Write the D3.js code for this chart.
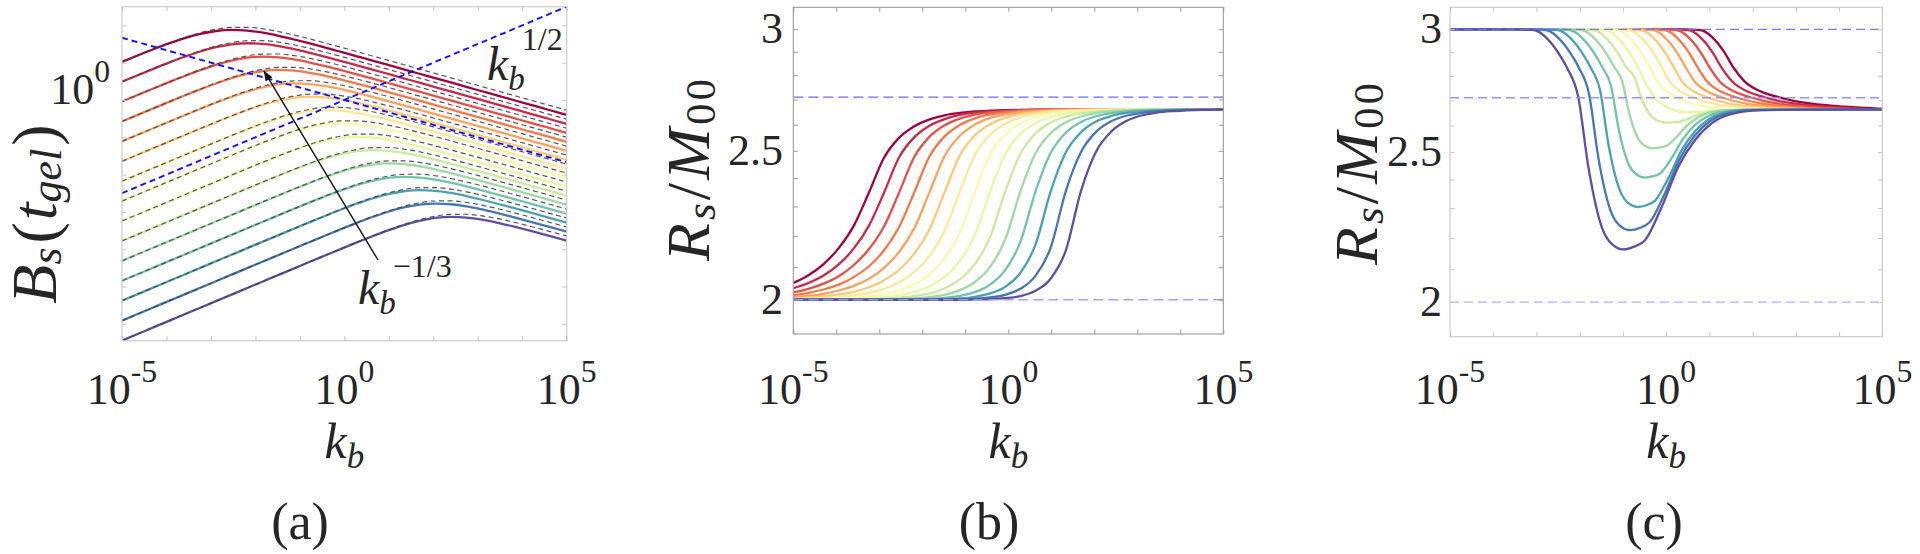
<!DOCTYPE html>
<html><head><meta charset="utf-8">
<script src="https://cdn.jsdelivr.net/npm/d3@7"></script>
<style>
body{margin:0;background:#fff}
svg{display:block}
</style>
</head><body>
<svg id="fig" width="1920" height="554"></svg>
<script>
// ---------------- DATA ----------------
const kbExponentGrid = [-5,-4.648,-4.296,-3.944,-3.592,-3.24,-2.888,-2.536,-2.184,-1.832,-1.48,-1.128,-0.776,-0.424,-0.072,0.28,0.632,0.984,1.336,1.688,2.04,2.392,2.744,3.096,3.448,3.8,4.152,4.504,4.856,5];

const bsLog10 = [
[1.022,1.193,1.359,1.516,1.657,1.772,1.849,1.878,1.859,1.803,1.720,1.621,1.514,1.402,1.287,1.171,1.055,0.938,0.820,0.703,0.586,0.469,0.351,0.234,0.117,-0.001,-0.118,-0.235,-0.352,-0.401],
[0.490,0.664,0.835,1.001,1.158,1.299,1.414,1.491,1.520,1.501,1.445,1.362,1.263,1.156,1.044,0.929,0.813,0.697,0.580,0.462,0.345,0.228,0.111,-0.007,-0.124,-0.241,-0.359,-0.476,-0.593,-0.642],
[-0.042,0.132,0.306,0.477,0.643,0.800,0.941,1.056,1.133,1.162,1.143,1.087,1.004,0.905,0.798,0.686,0.571,0.455,0.339,0.222,0.104,-0.013,-0.130,-0.247,-0.365,-0.482,-0.599,-0.717,-0.834,-0.882],
[-0.576,-0.400,-0.226,-0.052,0.119,0.285,0.442,0.583,0.698,0.775,0.804,0.785,0.729,0.646,0.547,0.440,0.328,0.213,0.097,-0.019,-0.136,-0.254,-0.371,-0.488,-0.605,-0.723,-0.840,-0.957,-1.075,-1.123],
[-1.109,-0.934,-0.758,-0.584,-0.410,-0.239,-0.073,0.084,0.225,0.340,0.417,0.446,0.427,0.371,0.288,0.189,0.082,-0.030,-0.145,-0.261,-0.377,-0.494,-0.612,-0.729,-0.846,-0.963,-1.081,-1.198,-1.315,-1.364],
[-1.643,-1.467,-1.292,-1.116,-0.942,-0.768,-0.597,-0.431,-0.274,-0.133,-0.018,0.059,0.088,0.069,0.013,-0.070,-0.169,-0.276,-0.388,-0.503,-0.619,-0.735,-0.852,-0.970,-1.087,-1.204,-1.321,-1.439,-1.556,-1.605],
[-2.177,-2.001,-1.825,-1.650,-1.474,-1.300,-1.126,-0.955,-0.789,-0.632,-0.491,-0.376,-0.299,-0.270,-0.289,-0.345,-0.428,-0.527,-0.634,-0.746,-0.861,-0.977,-1.093,-1.210,-1.328,-1.445,-1.562,-1.679,-1.797,-1.845],
[-2.711,-2.535,-2.359,-2.183,-2.008,-1.832,-1.658,-1.484,-1.313,-1.147,-0.990,-0.849,-0.734,-0.657,-0.628,-0.647,-0.703,-0.786,-0.885,-0.992,-1.104,-1.219,-1.335,-1.451,-1.568,-1.686,-1.803,-1.920,-2.037,-2.086],
[-3.245,-3.069,-2.893,-2.717,-2.541,-2.366,-2.190,-2.016,-1.842,-1.671,-1.505,-1.348,-1.207,-1.092,-1.015,-0.986,-1.005,-1.061,-1.144,-1.243,-1.350,-1.462,-1.577,-1.693,-1.809,-1.926,-2.044,-2.161,-2.278,-2.327],
[-3.779,-3.603,-3.427,-3.251,-3.075,-2.899,-2.724,-2.548,-2.374,-2.200,-2.029,-1.863,-1.706,-1.565,-1.450,-1.373,-1.344,-1.363,-1.419,-1.502,-1.601,-1.708,-1.820,-1.935,-2.051,-2.167,-2.284,-2.402,-2.519,-2.567],
[-4.313,-4.137,-3.961,-3.785,-3.609,-3.433,-3.257,-3.082,-2.906,-2.732,-2.558,-2.387,-2.221,-2.064,-1.923,-1.808,-1.731,-1.702,-1.721,-1.777,-1.860,-1.959,-2.066,-2.178,-2.293,-2.409,-2.525,-2.642,-2.760,-2.808],
[-4.847,-4.671,-4.495,-4.319,-4.143,-3.967,-3.791,-3.615,-3.440,-3.264,-3.090,-2.916,-2.745,-2.579,-2.422,-2.281,-2.166,-2.089,-2.060,-2.079,-2.135,-2.218,-2.317,-2.424,-2.536,-2.651,-2.767,-2.883,-3.000,-3.049],
[-5.381,-5.205,-5.029,-4.853,-4.677,-4.501,-4.325,-4.149,-3.973,-3.798,-3.622,-3.448,-3.274,-3.103,-2.937,-2.780,-2.639,-2.524,-2.447,-2.418,-2.437,-2.493,-2.576,-2.675,-2.782,-2.894,-3.009,-3.125,-3.241,-3.289],
[-5.915,-5.739,-5.563,-5.387,-5.211,-5.035,-4.859,-4.683,-4.507,-4.331,-4.156,-3.980,-3.806,-3.632,-3.461,-3.295,-3.138,-2.997,-2.882,-2.805,-2.776,-2.795,-2.851,-2.934,-3.033,-3.140,-3.252,-3.367,-3.483,-3.530],
[-6.449,-6.273,-6.097,-5.921,-5.745,-5.569,-5.393,-5.217,-5.041,-4.865,-4.689,-4.514,-4.338,-4.164,-3.990,-3.819,-3.653,-3.496,-3.355,-3.240,-3.163,-3.134,-3.153,-3.209,-3.292,-3.391,-3.498,-3.610,-3.725,-3.773]
];

const bsApproxLog10 = [
[1.023,1.195,1.364,1.525,1.674,1.802,1.896,1.946,1.948,1.906,1.833,1.740,1.635,1.525,1.411,1.296,1.179,1.062,0.945,0.828,0.711,0.594,0.476,0.359,0.242,0.124,0.007,-0.110,-0.227,-0.276],
[0.491,0.665,0.837,1.006,1.167,1.316,1.444,1.538,1.588,1.590,1.548,1.475,1.382,1.277,1.167,1.053,0.938,0.821,0.704,0.587,0.470,0.353,0.236,0.118,0.001,-0.116,-0.234,-0.351,-0.468,-0.517],
[-0.042,0.133,0.307,0.479,0.648,0.809,0.958,1.086,1.180,1.230,1.232,1.190,1.117,1.024,0.919,0.809,0.695,0.580,0.463,0.346,0.229,0.112,-0.005,-0.122,-0.240,-0.357,-0.474,-0.592,-0.709,-0.757],
[-0.576,-0.400,-0.225,-0.051,0.121,0.290,0.451,0.600,0.728,0.822,0.872,0.874,0.832,0.759,0.666,0.561,0.451,0.337,0.222,0.105,-0.012,-0.129,-0.246,-0.363,-0.480,-0.598,-0.715,-0.832,-0.950,-0.998],
[-1.109,-0.934,-0.758,-0.583,-0.409,-0.237,-0.068,0.093,0.242,0.370,0.464,0.514,0.516,0.474,0.401,0.308,0.203,0.093,-0.021,-0.136,-0.253,-0.370,-0.487,-0.604,-0.721,-0.838,-0.956,-1.073,-1.190,-1.239],
[-1.643,-1.467,-1.292,-1.116,-0.941,-0.767,-0.595,-0.426,-0.265,-0.116,0.012,0.106,0.156,0.158,0.116,0.043,-0.050,-0.155,-0.265,-0.379,-0.494,-0.611,-0.728,-0.845,-0.962,-1.079,-1.196,-1.314,-1.431,-1.480],
[-2.177,-2.001,-1.825,-1.650,-1.474,-1.299,-1.125,-0.953,-0.784,-0.623,-0.474,-0.346,-0.252,-0.202,-0.200,-0.242,-0.315,-0.408,-0.513,-0.623,-0.737,-0.852,-0.969,-1.086,-1.203,-1.320,-1.437,-1.554,-1.672,-1.720],
[-2.711,-2.535,-2.359,-2.183,-2.008,-1.832,-1.657,-1.483,-1.311,-1.142,-0.981,-0.832,-0.704,-0.610,-0.560,-0.558,-0.600,-0.673,-0.766,-0.871,-0.981,-1.095,-1.210,-1.327,-1.444,-1.561,-1.678,-1.795,-1.912,-1.961],
[-3.245,-3.069,-2.893,-2.717,-2.541,-2.366,-2.190,-2.015,-1.841,-1.669,-1.500,-1.339,-1.190,-1.062,-0.968,-0.918,-0.916,-0.958,-1.031,-1.124,-1.229,-1.339,-1.453,-1.568,-1.685,-1.802,-1.919,-2.036,-2.153,-2.202],
[-3.779,-3.603,-3.427,-3.251,-3.075,-2.899,-2.724,-2.548,-2.373,-2.199,-2.027,-1.858,-1.697,-1.548,-1.420,-1.326,-1.276,-1.274,-1.316,-1.389,-1.482,-1.587,-1.697,-1.811,-1.926,-2.043,-2.160,-2.277,-2.394,-2.442],
[-4.313,-4.137,-3.961,-3.785,-3.609,-3.433,-3.257,-3.082,-2.906,-2.731,-2.557,-2.385,-2.216,-2.055,-1.906,-1.778,-1.684,-1.634,-1.632,-1.674,-1.747,-1.840,-1.945,-2.055,-2.169,-2.284,-2.401,-2.518,-2.635,-2.683],
[-4.847,-4.671,-4.495,-4.319,-4.143,-3.967,-3.791,-3.615,-3.440,-3.264,-3.089,-2.915,-2.743,-2.574,-2.413,-2.264,-2.136,-2.042,-1.992,-1.990,-2.032,-2.105,-2.198,-2.303,-2.413,-2.527,-2.642,-2.759,-2.876,-2.924],
[-5.381,-5.205,-5.029,-4.853,-4.677,-4.501,-4.325,-4.149,-3.973,-3.798,-3.622,-3.447,-3.273,-3.101,-2.932,-2.771,-2.622,-2.494,-2.400,-2.350,-2.348,-2.390,-2.463,-2.556,-2.661,-2.771,-2.885,-3.000,-3.117,-3.164],
[-5.915,-5.739,-5.563,-5.387,-5.211,-5.035,-4.859,-4.683,-4.507,-4.331,-4.156,-3.980,-3.805,-3.631,-3.459,-3.290,-3.129,-2.980,-2.852,-2.758,-2.708,-2.706,-2.748,-2.821,-2.914,-3.019,-3.129,-3.243,-3.358,-3.405],
[-6.449,-6.273,-6.097,-5.921,-5.745,-5.569,-5.393,-5.217,-5.041,-4.865,-4.689,-4.514,-4.338,-4.163,-3.989,-3.817,-3.648,-3.487,-3.338,-3.210,-3.116,-3.066,-3.064,-3.106,-3.179,-3.272,-3.377,-3.487,-3.601,-3.646]
];

const guideHalf  = [[-5,-2.5],[5,2.5]];
const guideThird = [[-5,1.667],[5,-1.667]];
const arrowA = [[0.757,-4.29],[-1.81,0.78]];

const rsRatioB = [
[2.051,2.075,2.110,2.161,2.235,2.349,2.475,2.550,2.594,2.621,2.637,2.646,2.652,2.655,2.657,2.658,2.659,2.659,2.659,2.66,2.66,2.66,2.66,2.66,2.66,2.66,2.66,2.66,2.66,2.66],
[2.035,2.051,2.074,2.109,2.160,2.235,2.349,2.477,2.552,2.596,2.622,2.638,2.647,2.652,2.655,2.657,2.658,2.659,2.659,2.659,2.66,2.66,2.66,2.66,2.66,2.66,2.66,2.66,2.66,2.66],
[2.022,2.033,2.049,2.072,2.107,2.158,2.233,2.350,2.478,2.554,2.598,2.624,2.639,2.648,2.653,2.656,2.658,2.659,2.659,2.659,2.659,2.66,2.66,2.66,2.66,2.66,2.66,2.66,2.66,2.66],
[2.014,2.021,2.031,2.046,2.069,2.103,2.154,2.231,2.350,2.480,2.555,2.599,2.625,2.640,2.648,2.653,2.656,2.658,2.659,2.659,2.659,2.659,2.66,2.66,2.66,2.66,2.66,2.66,2.66,2.66],
[2.008,2.012,2.018,2.028,2.042,2.064,2.098,2.149,2.227,2.350,2.481,2.557,2.601,2.626,2.640,2.649,2.654,2.656,2.658,2.659,2.659,2.659,2.659,2.66,2.66,2.66,2.66,2.66,2.66,2.66],
[2.004,2.006,2.010,2.016,2.024,2.038,2.059,2.092,2.143,2.223,2.350,2.483,2.559,2.602,2.627,2.641,2.649,2.654,2.657,2.658,2.659,2.659,2.659,2.659,2.66,2.66,2.66,2.66,2.66,2.66],
[2.002,2.003,2.005,2.008,2.013,2.021,2.033,2.053,2.085,2.136,2.218,2.351,2.485,2.561,2.604,2.628,2.642,2.650,2.654,2.657,2.658,2.659,2.659,2.659,2.659,2.66,2.66,2.66,2.66,2.66],
[2.001,2.001,2.002,2.004,2.006,2.010,2.017,2.028,2.047,2.077,2.128,2.211,2.351,2.486,2.562,2.605,2.629,2.643,2.650,2.655,2.657,2.658,2.659,2.659,2.659,2.659,2.66,2.66,2.66,2.66],
[2.000,2.001,2.001,2.002,2.003,2.005,2.008,2.014,2.024,2.041,2.070,2.119,2.205,2.351,2.488,2.564,2.606,2.630,2.643,2.651,2.655,2.657,2.658,2.659,2.659,2.659,2.659,2.66,2.66,2.66],
[2.000,2.000,2.000,2.001,2.001,2.002,2.003,2.006,2.011,2.019,2.034,2.062,2.110,2.197,2.352,2.489,2.566,2.608,2.631,2.644,2.651,2.655,2.657,2.659,2.659,2.659,2.659,2.659,2.66,2.66],
[2.000,2.000,2.000,2.000,2.000,2.001,2.001,2.002,2.004,2.008,2.015,2.029,2.054,2.101,2.189,2.352,2.491,2.567,2.609,2.632,2.645,2.652,2.655,2.658,2.659,2.659,2.659,2.659,2.659,2.66],
[2.000,2.000,2.000,2.000,2.000,2.000,2.000,2.001,2.002,2.003,2.006,2.012,2.023,2.046,2.091,2.181,2.352,2.492,2.569,2.610,2.633,2.645,2.652,2.656,2.658,2.659,2.659,2.659,2.66,2.66],
[2.000,2.000,2.000,2.000,2.000,2.000,2.000,2.000,2.000,2.001,2.002,2.004,2.009,2.019,2.039,2.082,2.172,2.352,2.494,2.570,2.612,2.634,2.646,2.652,2.656,2.658,2.659,2.659,2.66,2.66],
[2.000,2.000,2.000,2.000,2.000,2.000,2.000,2.000,2.000,2.000,2.001,2.001,2.003,2.007,2.015,2.033,2.073,2.162,2.353,2.495,2.572,2.613,2.635,2.646,2.653,2.656,2.658,2.659,2.659,2.66],
[2.000,2.000,2.000,2.000,2.000,2.000,2.000,2.000,2.000,2.000,2.000,2.000,2.001,2.002,2.005,2.011,2.027,2.064,2.153,2.353,2.497,2.573,2.614,2.636,2.647,2.653,2.656,2.658,2.659,2.66]
];
const refLevelsB = [2.71, 2.0];

const rsCurvesC = [
[[-5,3],[0.35,3],[0.74,2.998],[0.9,2.99],[1.05,2.968],[1.36,2.896],[1.55,2.836],[1.824,2.775],[2.21,2.734],[2.595,2.713],[2.98,2.697],[3.366,2.686],[4.137,2.674],[5,2.666]],
[[-5,3],[0.075,3],[0.465,2.998],[0.625,2.99],[0.775,2.968],[1.085,2.896],[1.275,2.836],[1.534,2.775],[1.899,2.734],[2.263,2.713],[2.626,2.697],[2.991,2.686],[3.72,2.674],[4.535,2.666],[5,2.665]],
[[-5,3],[-0.2,3],[0.19,2.998],[0.35,2.99],[0.5,2.968],[0.81,2.896],[1.0,2.836],[1.244,2.775],[1.587,2.734],[1.93,2.713],[2.273,2.697],[2.616,2.686],[3.302,2.674],[4.07,2.666],[5,2.664]],
[[-5,3],[-0.475,3],[-0.085,2.998],[0.075,2.99],[0.225,2.968],[0.535,2.896],[0.725,2.836],[0.954,2.775],[1.276,2.734],[1.598,2.713],[1.919,2.697],[2.241,2.686],[2.885,2.674],[3.606,2.666],[5,2.664]],
[[-5,3],[-0.75,3],[-0.36,2.998],[-0.2,2.99],[-0.05,2.968],[0.26,2.896],[0.45,2.836],[0.664,2.775],[0.965,2.734],[1.265,2.713],[1.565,2.697],[1.866,2.686],[2.468,2.674],[3.141,2.666],[5,2.663]],
[[-5,3],[-1.025,3],[-0.635,2.998],[-0.475,2.99],[-0.325,2.968],[-0.015,2.896],[0.175,2.836],[0.374,2.775],[0.654,2.734],[0.933,2.713],[1.212,2.697],[1.492,2.686],[2.051,2.674],[2.676,2.666],[5,2.663]],
[[-5,3],[-1.3,3],[-0.91,2.998],[-0.75,2.99],[-0.6,2.968],[-0.29,2.896],[-0.1,2.836],[0.084,2.775],[0.342,2.734],[0.6,2.713],[0.858,2.697],[1.117,2.686],[1.633,2.674],[2.212,2.666],[5,2.663]],
[[-5,3],[-1.575,3],[-1.185,2.998],[-1.025,2.99],[-0.875,2.968],[-0.565,2.896],[-0.375,2.836],[-0.206,2.775],[0.031,2.734],[0.268,2.71],[0.504,2.692],[0.742,2.68],[1.216,2.668],[1.747,2.662],[5,2.663]],
[[-5,3],[-1.85,3],[-1.46,2.998],[-1.3,2.99],[-1.15,2.968],[-0.84,2.896],[-0.65,2.836],[-0.45,2.76],[-0.2,2.70],[0.1,2.665],[0.45,2.652],[0.9,2.656],[1.5,2.661],[2.5,2.663],[5,2.664]],
[[-5,3],[-2.125,3],[-1.735,2.998],[-1.575,2.99],[-1.425,2.968],[-1.115,2.896],[-0.925,2.836],[-0.732,2.794],[-0.567,2.706],[-0.346,2.637],[-0.175,2.618],[0.012,2.612],[0.15,2.613],[0.288,2.615],[0.5,2.626],[0.712,2.641],[0.924,2.651],[1.136,2.658],[1.348,2.661],[3.5,2.663],[5,2.664]],
[[-5,3],[-2.4,3],[-2.01,2.998],[-1.85,2.99],[-1.7,2.968],[-1.39,2.896],[-1.2,2.836],[-1.014,2.776],[-0.855,2.649],[-0.642,2.549],[-0.478,2.522],[-0.297,2.514],[-0.147,2.517],[0.004,2.523],[0.236,2.556],[0.467,2.598],[0.698,2.628],[0.929,2.647],[1.16,2.657],[1.623,2.662],[3.5,2.663],[5,2.664]],
[[-5,3],[-2.675,3],[-2.285,2.998],[-2.125,2.99],[-1.975,2.968],[-1.665,2.896],[-1.475,2.836],[-1.272,2.756],[-1.098,2.587],[-0.866,2.454],[-0.686,2.418],[-0.489,2.407],[-0.314,2.411],[-0.138,2.422],[0.133,2.479],[0.402,2.552],[0.672,2.603],[0.942,2.635],[1.211,2.652],[1.751,2.662],[3.5,2.663],[5,2.664]],
[[-5,3],[-2.95,3],[-2.56,2.998],[-2.4,2.99],[-2.25,2.968],[-1.94,2.896],[-1.75,2.836],[-1.525,2.737],[-1.333,2.527],[-1.075,2.363],[-0.876,2.317],[-0.658,2.304],[-0.458,2.310],[-0.256,2.326],[0.052,2.405],[0.36,2.507],[0.669,2.578],[0.977,2.624],[1.285,2.648],[1.902,2.662],[3.5,2.663],[5,2.664]],
[[-5,3],[-3.225,3],[-2.835,2.998],[-2.675,2.99],[-2.525,2.968],[-2.215,2.896],[-2.025,2.836],[-1.78,2.722],[-1.571,2.482],[-1.29,2.293],[-1.074,2.241],[-0.836,2.226],[-0.611,2.233],[-0.384,2.252],[-0.037,2.349],[0.31,2.473],[0.657,2.56],[1.004,2.616],[1.35,2.645],[2.044,2.661],[3.5,2.663],[5,2.664]],
[[-5,3],[-3.5,3],[-3.11,2.998],[-2.95,2.99],[-2.8,2.968],[-2.49,2.896],[-2.3,2.836],[-2.03,2.71],[-1.8,2.446],[-1.491,2.237],[-1.253,2.18],[-0.991,2.163],[-0.741,2.172],[-0.489,2.193],[-0.103,2.304],[0.282,2.446],[0.668,2.545],[1.053,2.609],[1.438,2.642],[2.209,2.661],[3.5,2.663],[5,2.664]]
];
const refLevelsC = [3.0, 2.71, 2.0];

const xTickExps  = [-5,-4,-3,-2,-1,0,1,2,3,4,5];
const xLabelExps = [-5,0,5];
const yTickExpsA = [2,1,0,-1,-2,-3,-4,-5,-6];
const yLabelExpsA = [0];
const yTicksBC  = [2,2.1,2.2,2.3,2.4,2.5,2.6,2.7,2.8,2.9,3];
const yLabelsBC = [2,2.5,3];
const captions = ["(a)","(b)","(c)"];

// ---------------- DRAWING ----------------
const FONT = "'Liberation Serif','Times New Roman',serif";
const INK = "#262626";
const svg = d3.select("#fig").attr("font-family",FONT);
svg.append("rect").attr("width",1920).attr("height",554).attr("fill","#fff");
const defs = svg.append("defs");
defs.append("marker").attr("id","ah").attr("viewBox","0 0 10 8").attr("refX",10).attr("refY",4)
  .attr("markerWidth",11).attr("markerHeight",8).attr("markerUnits","userSpaceOnUse").attr("orient","auto")
  .append("path").attr("d","M0,0 L10,4 L0,8 Z").attr("fill","#111");

const nCurves = 15;
const colorOf = i => d3.interpolateSpectral(i/(nCurves-1));

function txt(g, x, y, size){
  return g.append("text").attr("x",x).attr("y",y).attr("font-size",size)
    .attr("font-family",FONT).attr("fill",INK);
}

function makePanel(cfg){
  const g = svg.append("g");
  const x = d3.scaleLog().domain([1e-5,1e5]).range([cfg.left,cfg.right]);
  const y = d3.scaleLog().domain(cfg.yDomain).range([cfg.bottom,cfg.top]);
  defs.append("clipPath").attr("id","clip"+cfg.id).append("rect")
    .attr("x",cfg.left).attr("y",cfg.top).attr("width",cfg.right-cfg.left).attr("height",cfg.bottom-cfg.top);
  const plot = g.append("g").attr("clip-path",`url(#clip${cfg.id})`);
  return {cfg,g,x,y,plot};
}

function drawFrame(p, yTicks){
  const c = p.cfg, col = c.frameColor, L = 4.5;
  const ax = (axis, tr) => {
    const a = p.g.append("g").attr("transform",tr).call(axis);
    a.select(".domain").remove();
    a.selectAll("line").attr("stroke",col).attr("stroke-width",1);
    a.selectAll("text").remove();
  };
  ax(d3.axisBottom(p.x).tickValues(xTickExps.map(e=>10**e)).tickSize(-L).tickFormat(""),`translate(0,${c.bottom})`);
  ax(d3.axisTop(p.x).tickValues(xTickExps.map(e=>10**e)).tickSize(-L).tickFormat(""),`translate(0,${c.top})`);
  ax(d3.axisLeft(p.y).tickValues(yTicks).tickSize(-L).tickFormat(""),`translate(${c.left},0)`);
  ax(d3.axisRight(p.y).tickValues(yTicks).tickSize(-L).tickFormat(""),`translate(${c.right},0)`);
  p.g.append("rect").attr("x",c.left).attr("y",c.top).attr("width",c.right-c.left).attr("height",c.bottom-c.top)
    .attr("fill","none").attr("stroke",col).attr("stroke-width",1.1);
}

function powText(g, x, y, exp, anchor, size){
  const t = txt(g, x, y, size).attr("text-anchor",anchor);
  t.append("tspan").text("10");
  t.append("tspan").attr("dy",-0.5*size).attr("font-size",size*0.72).text(String(exp));
  return t;
}

function xLabels(p){
  xLabelExps.forEach(e => powText(p.g, p.x(10**e), 404, e, "middle", 44));
  const t = txt(p.g,(p.cfg.left+p.cfg.right)/2,458,50).attr("text-anchor","middle");
  t.append("tspan").attr("font-style","italic").text("k");
  t.append("tspan").attr("font-style","italic").attr("font-size",35).attr("dy",10).text("b");
}

function caption(p, s, cx){
  txt(p.g,cx,539,52).attr("text-anchor","middle").text(s);
}

function rsLabel(p, cx, cy){
  const t = txt(p.g,0,0,62).attr("transform",`translate(${cx},${cy}) rotate(-90)`)
    .attr("text-anchor","middle").attr("dominant-baseline","central")
    .attr("textLength",182).attr("lengthAdjust","spacing");
  t.append("tspan").attr("font-style","italic").text("R");
  t.append("tspan").attr("font-style","italic").attr("font-size",43).attr("dy",12).text("s");
  t.append("tspan").attr("dy",-12).text("/");
  t.append("tspan").attr("font-style","italic").text("M");
  t.append("tspan").attr("font-size",43).attr("dy",12).text("00");
}

// ---- panel (a)
const pa = makePanel({id:"a",left:122,right:566.7,top:6.7,bottom:340.7,yDomain:[10**-6.453,10**2.5],frameColor:"#c6c6c6"});
const lineA = d3.line().x((d,j)=>pa.x(10**kbExponentGrid[j])).y(d=>pa.y(10**d)).curve(d3.curveMonotoneX);
bsLog10.forEach((row,i)=>{
  pa.plot.append("path").attr("d",lineA(row)).attr("fill","none").attr("stroke",colorOf(i)).attr("stroke-width",2.3);
});
bsApproxLog10.forEach(row=>{
  pa.plot.append("path").attr("d",lineA(row)).attr("fill","none").attr("stroke","#444")
    .attr("stroke-width",1.2).attr("stroke-dasharray","5,3.5").attr("opacity",0.9);
});
const lineG = d3.line().x(d=>pa.x(10**d[0])).y(d=>pa.y(10**d[1]));
[guideHalf,guideThird].forEach(gd=>{
  pa.plot.append("path").attr("d",lineG(gd)).attr("fill","none").attr("stroke","#1010ff")
    .attr("stroke-width",1.9).attr("stroke-dasharray","6,4");
});
pa.g.append("line")
  .attr("x1",pa.x(10**arrowA[0][0])).attr("y1",pa.y(10**arrowA[0][1]))
  .attr("x2",pa.x(10**arrowA[1][0])).attr("y2",pa.y(10**arrowA[1][1]))
  .attr("stroke","#111").attr("stroke-width",1.4).attr("marker-end","url(#ah)");
drawFrame(pa, yTickExpsA.map(e=>10**e));
xLabels(pa);
yLabelExpsA.forEach(e=>powText(pa.g, 110, pa.y(10**e)+4, e, "end", 44));
{
  const t = txt(pa.g,0,0,64).attr("transform","translate(34,214) rotate(-90)")
    .attr("text-anchor","middle").attr("dominant-baseline","central");
  t.append("tspan").attr("font-style","italic").text("B");
  t.append("tspan").attr("font-style","italic").attr("font-size",44).attr("dy",12).text("s");
  t.append("tspan").attr("dx",4).attr("dy",-12).text("(");
  t.append("tspan").attr("font-style","italic").attr("dx",2).text("t");
  t.append("tspan").attr("font-style","italic").attr("font-size",44).attr("dy",12).text("gel");
  t.append("tspan").attr("dx",3).attr("dy",-12).text(")");
  const a1 = txt(pa.g,487,80,48);
  a1.append("tspan").attr("font-style","italic").text("k");
  a1.append("tspan").attr("font-style","italic").attr("font-size",33).attr("dy",10).text("b");
  a1.append("tspan").attr("font-size",32).attr("dx",-3).attr("dy",-40).text("1/2");
  const a2 = txt(pa.g,358,304,48);
  a2.append("tspan").attr("font-style","italic").text("k");
  a2.append("tspan").attr("font-style","italic").attr("font-size",33).attr("dy",10).text("b");
  a2.append("tspan").attr("font-size",32).attr("dx",-3).attr("dy",-37).text("\u22121/3");
}
caption(pa, captions[0], 300);

// ---- panel (b)
const pb = makePanel({id:"b",left:793.3,right:1223.3,top:7.3,bottom:334,yDomain:[1.9,3.1],frameColor:"#9a9a9a"});
const lineB = d3.line().x((d,j)=>pb.x(10**kbExponentGrid[j])).y(d=>pb.y(d)).curve(d3.curveMonotoneX);
rsRatioB.forEach((row,i)=>{
  pb.plot.append("path").attr("d",lineB(row)).attr("fill","none").attr("stroke",colorOf(i)).attr("stroke-width",2.3);
});
const refColorsB = ["#5a5aff","#9c9cff"];
refLevelsB.forEach((v,k)=>{
  pb.plot.append("line").attr("x1",pb.cfg.left).attr("x2",pb.cfg.right).attr("y1",pb.y(v)).attr("y2",pb.y(v))
    .attr("stroke",refColorsB[k]).attr("stroke-width",1.3).attr("stroke-dasharray","10,5").attr("opacity",0.9);
});
drawFrame(pb, yTicksBC);
xLabels(pb);
yLabelsBC.forEach(v=>txt(pb.g,783,pb.y(v)+14,44).attr("text-anchor","end").text(String(v)));
rsLabel(pb, 688, 170);
caption(pb, captions[1], 989);

// ---- panel (c)
const pc = makePanel({id:"c",left:1450,right:1882.3,top:7.3,bottom:336.7,yDomain:[1.9,3.1],frameColor:"#c6c6c6"});
const lineC = d3.line().x(d=>pc.x(10**d[0])).y(d=>pc.y(d[1])).curve(d3.curveMonotoneX);
rsCurvesC.forEach((pts,i)=>{
  pc.plot.append("path").attr("d",lineC(pts)).attr("fill","none").attr("stroke",colorOf(i)).attr("stroke-width",2.3);
});
const refColorsC = ["#6e6eff","#8a8aff","#a8a8ff"];
refLevelsC.forEach((v,k)=>{
  pc.plot.append("line").attr("x1",pc.cfg.left).attr("x2",pc.cfg.right).attr("y1",pc.y(v)).attr("y2",pc.y(v))
    .attr("stroke",refColorsC[k]).attr("stroke-width",1.3).attr("stroke-dasharray","9,5").attr("opacity",0.9);
});
drawFrame(pc, yTicksBC);
xLabels(pc);
yLabelsBC.forEach(v=>txt(pc.g,1442,pc.y(v)+14,44).attr("text-anchor","end").text(String(v)));
rsLabel(pc, 1356, 174);
caption(pc, captions[2], 1654);
</script>
</body></html>
